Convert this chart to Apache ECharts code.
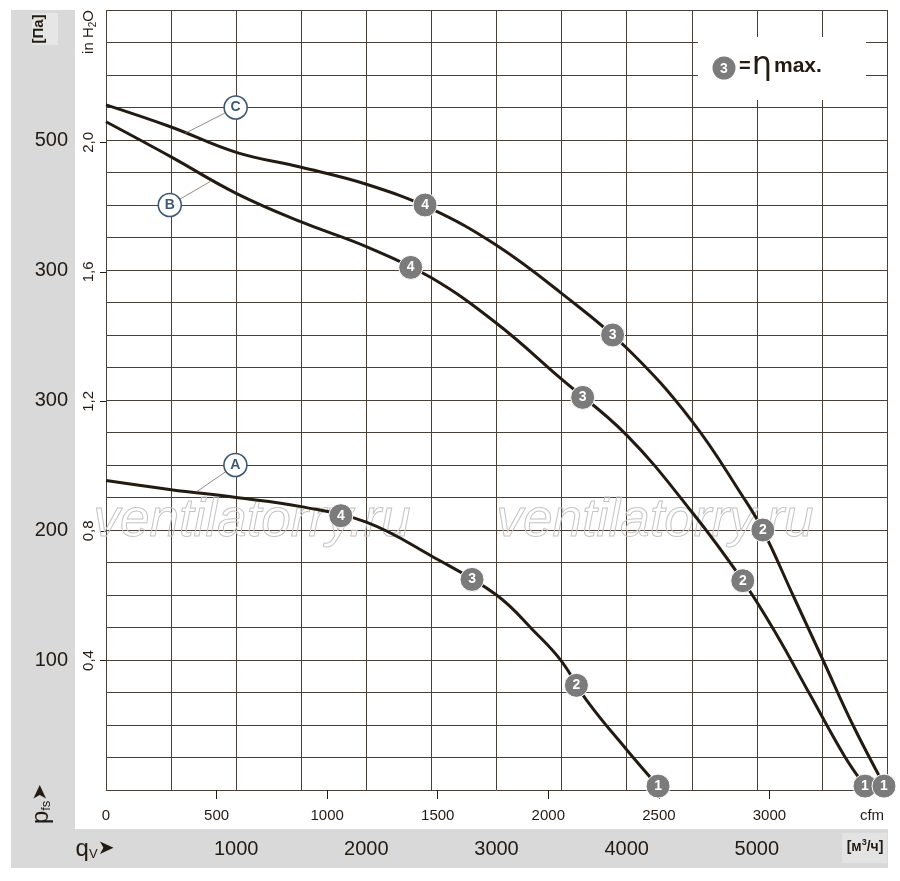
<!DOCTYPE html>
<html>
<head>
<meta charset="utf-8">
<script src="https://cdn.jsdelivr.net/npm/echarts@6/dist/echarts.min.js"></script>
<style>
html, body { margin: 0; padding: 0; background: #fff; }
#main { width: 900px; height: 881px; }
</style>
</head>
<body>
<div id="main"></div>
<script>
// кривые: расход, м³/ч  /  давление, Па
var qA = [0, 500, 1000, 1500, 2000, 2500, 3000, 3300, 3500, 3700, 4000, 4241];
var pA = [238, 231, 225, 218, 206, 180, 150, 121, 99, 68, 31, 3];
var qB = [0, 500, 1000, 1500, 2000, 2500, 3000, 3500, 4000, 4500, 4892, 5149, 5405, 5674, 5831];
var pB = [514, 487, 459, 437, 418, 394, 359, 316, 273, 214, 161, 120, 74, 26, 3];
var qC = [0, 500, 1000, 1500, 2000, 2500, 3000, 3500, 4000, 4500, 4897, 5046, 5277, 5508, 5738, 5982];
var pC = [527, 510, 490.5, 479, 466, 447, 419, 382, 340, 284, 225, 200, 150, 100, 50, 3];

// рабочие точки 1..4
var markQ = [1804, 2812, 3614, 4241, 2341, 3662, 4892, 5831, 2451, 3892, 5046, 5977];
var markP = [211, 162, 80.5, 3, 402, 302, 161, 3, 450, 350, 200, 3];
var markNum = ['4', '3', '2', '1', '4', '3', '2', '1', '4', '3', '2', '1'];

// обозначения кривых A, B, C и выноски
var tagName = ['A', 'B', 'C'];
var tagQ = [994, 490, 996];
var tagP = [250, 450, 525];
var leadQ = [690, 800, 605];
var leadP = [229, 468, 505];

// подписи осей
var paTicks = [100, 200, 300, 400, 500];
var paTickText = ['100', '200', '300', '300', '500'];
var inTicks = [0.4, 0.8, 1.2, 1.6, 2.0];
var cfmTicks = [500, 1000, 1500, 2000, 2500, 3000];
var cfmLabels = [0, 500, 1000, 1500, 2000, 2500, 3000];
var m3Labels = [1000, 2000, 3000, 4000, 5000];

var CFM = 1.69901, INH2O = 249.089;
var ink = '#231a12', gridCol = '#4b4037';
var font = '"Liberation Sans", Arial, sans-serif';

function zip(a, b) {
    return a.map(function (v, i) { return [v, b[i]]; });
}

var myChart = echarts.init(document.getElementById('main'));

var curveStyle = { color: ink, width: 3 };
var series = [
    { name: 'A', data: zip(qA, pA) },
    { name: 'B', data: zip(qB, pB) },
    { name: 'C', data: zip(qC, pC) }
].map(function (s) {
    return {
        name: s.name, type: 'line', data: s.data, showSymbol: false,
        smooth: 0.4, lineStyle: curveStyle, z: 3, silent: true
    };
});

// выноски
for (var i = 0; i < tagName.length; i++) {
    series.push({
        type: 'line', data: [[leadQ[i], leadP[i]], [tagQ[i], tagP[i]]],
        showSymbol: false, lineStyle: { color: '#7a6e64', width: 0.8 }, z: 4, silent: true
    });
}

series.push({
    type: 'scatter', z: 6, silent: true,
    data: tagName.map(function (n, i) { return { value: [tagQ[i], tagP[i]], name: n }; }),
    symbolSize: 23,
    itemStyle: { color: '#fff', borderColor: '#3d5874', borderWidth: 1.6, opacity: 1 },
    label: {
        show: true, position: 'inside', formatter: '{b}', color: '#3d5874',
        fontFamily: font, fontWeight: 'bold', fontSize: 14
    }
});

series.push({
    type: 'scatter', z: 7, silent: true,
    data: markNum.map(function (n, i) { return { value: [markQ[i], markP[i]], name: n }; }),
    symbolSize: 24,
    itemStyle: { color: '#7b7b7b', borderColor: '#fff', borderWidth: 1, opacity: 1 },
    label: {
        show: true, position: 'inside', formatter: '{b}', color: '#fff',
        fontFamily: font, fontWeight: 'bold', fontSize: 14
    }
});

function plain(v) { return String(Math.round(v)); }

var option = {
    animation: false,
    backgroundColor: '#fff',
    grid: { left: 106, top: 10, right: 13, bottom: 91 },
    xAxis: [{
        // м³/ч
        type: 'value', min: 0, max: 6000, interval: 500, position: 'bottom',
        axisLine: { show: false, onZero: false },
        axisTick: { show: false },
        splitLine: { show: true, lineStyle: { color: gridCol, width: 1 } },
        axisLabel: {
            customValues: m3Labels, margin: 49, color: ink,
            fontFamily: font, fontSize: 20, formatter: plain
        }
    }, {
        // cfm
        type: 'value', min: 0, max: 6000 / CFM, position: 'bottom',
        axisLine: { show: false, onZero: false },
        splitLine: { show: false },
        axisTick: { show: true, customValues: cfmTicks, length: 9, inside: false, lineStyle: { color: ink, width: 1 } },
        axisLabel: {
            customValues: cfmLabels, margin: 18, color: ink,
            fontFamily: font, fontSize: 15, formatter: plain
        }
    }],
    yAxis: [{
        // Па
        type: 'value', min: 0, max: 600, interval: 25, position: 'left',
        axisLine: { show: false, onZero: false },
        axisTick: { show: false },
        splitLine: { show: true, lineStyle: { color: gridCol, width: 1 } },
        axisLabel: {
            customValues: paTicks, margin: 38, color: ink, fontFamily: font, fontSize: 20,
            formatter: function (v) { return paTickText[paTicks.indexOf(v)]; }
        }
    }, {
        // in H2O
        type: 'value', min: 0, max: 600 / INH2O, position: 'left',
        axisLine: { show: false, onZero: false },
        splitLine: { show: false },
        axisTick: { show: true, customValues: inTicks, length: 6, lineStyle: { color: ink, width: 1 } },
        axisLabel: {
            customValues: inTicks, margin: 10, rotate: 90, color: ink, fontFamily: font, fontSize: 15,
            formatter: function (v) { return v.toFixed(1).replace('.', ','); }
        }
    }],
    series: series,
    graphic: [
        // серые поля
        { type: 'rect', z: -10, shape: { x: 11, y: 10, width: 64, height: 858 }, style: { fill: '#d9d9d9' } },
        { type: 'rect', z: -10, shape: { x: 11, y: 829, width: 877, height: 39 }, style: { fill: '#d9d9d9' } },
        { type: 'rect', z: -9, shape: { x: 32, y: 13, width: 26, height: 32 }, style: { fill: '#e6e6e6' } },
        { type: 'rect', z: -9, shape: { x: 842, y: 833, width: 45, height: 30 }, style: { fill: '#e3e3e3' } },
        {
            type: 'text', x: 39, y: 29, rotation: Math.PI / 2,
            style: { text: '[Па]', fill: ink, font: 'bold 15px ' + font, align: 'center', verticalAlign: 'middle' }
        },
        {
            type: 'text', x: 89, y: 32, rotation: Math.PI / 2,
            style: {
                text: '{a|in H}{s|2}{a|O}', align: 'center', verticalAlign: 'middle',
                rich: {
                    a: { fill: ink, fontFamily: font, fontSize: 15 },
                    s: { fill: ink, fontFamily: font, fontSize: 10, padding: [8, 0, 0, 0] }
                }
            }
        },
        {
            type: 'text', x: 41, y: 804, rotation: Math.PI / 2,
            style: {
                text: '{a|p}{s|fs}{b|➤}', align: 'center', verticalAlign: 'middle',
                rich: {
                    a: { fill: ink, fontFamily: font, fontSize: 24 },
                    s: { fill: ink, fontFamily: font, fontSize: 13, padding: [10, 0, 0, 0] },
                    b: { fill: ink, fontFamily: 'DejaVu Sans', fontSize: 20 }
                }
            }
        },
        {
            type: 'text', x: 95, y: 849,
            style: {
                text: '{a|q}{s|V}{b|➤}', align: 'center', verticalAlign: 'middle',
                rich: {
                    a: { fill: ink, fontFamily: font, fontSize: 24 },
                    s: { fill: ink, fontFamily: font, fontSize: 13, padding: [10, 0, 0, 0] },
                    b: { fill: ink, fontFamily: 'DejaVu Sans', fontSize: 20 }
                }
            }
        },
        {
            type: 'text', x: 865, y: 847,
            style: {
                text: '{a|[м}{s|3}{a|/ч]}', align: 'center', verticalAlign: 'middle',
                rich: {
                    a: { fill: ink, fontFamily: font, fontSize: 14, fontWeight: 'bold' },
                    s: { fill: ink, fontFamily: font, fontSize: 9, fontWeight: 'bold', padding: [0, 0, 8, 0] }
                }
            }
        },
        {
            type: 'text', x: 872, y: 816,
            style: { text: 'cfm', fill: ink, font: '15px ' + font, align: 'center', verticalAlign: 'middle' }
        },
        // водяной знак
        {
            type: 'text', x: 252, y: 521, z: 1,
            style: { text: 'ventilatorry.ru', fill: 'rgba(255,255,255,0)', stroke: '#c4c4c4', lineWidth: 1,
                font: 'italic 53px ' + font, align: 'center', verticalAlign: 'middle' }
        },
        {
            type: 'text', x: 655, y: 521, z: 1,
            style: { text: 'ventilatorry.ru', fill: 'rgba(255,255,255,0)', stroke: '#c4c4c4', lineWidth: 1,
                font: 'italic 53px ' + font, align: 'center', verticalAlign: 'middle' }
        },
        // легенда: 3 = ηmax.
        { type: 'rect', z: 5, shape: { x: 698, y: 37, width: 168, height: 63 }, style: { fill: '#fff' } },
        { type: 'circle', z: 6, shape: { cx: 724, cy: 68, r: 11.5 }, style: { fill: '#7b7b7b' } },
        {
            type: 'text', z: 7, x: 724, y: 69,
            style: { text: '3', fill: '#fff', font: 'bold 14px ' + font, align: 'center', verticalAlign: 'middle' }
        },
        {
            type: 'text', z: 7, x: 739, y: 66,
            style: {
                text: '{e|=}{h|η}{m|max.}', align: 'left', verticalAlign: 'middle',
                rich: {
                    e: { fill: ink, fontFamily: font, fontSize: 20, fontWeight: 'bold' },
                    h: { fill: ink, fontFamily: 'DejaVu Sans', fontSize: 32, padding: [0, 2, 0, 1] },
                    m: { fill: ink, fontFamily: font, fontSize: 21, fontWeight: 'bold' }
                }
            }
        }
    ]
};

myChart.setOption(option);
</script>
</body>
</html>
